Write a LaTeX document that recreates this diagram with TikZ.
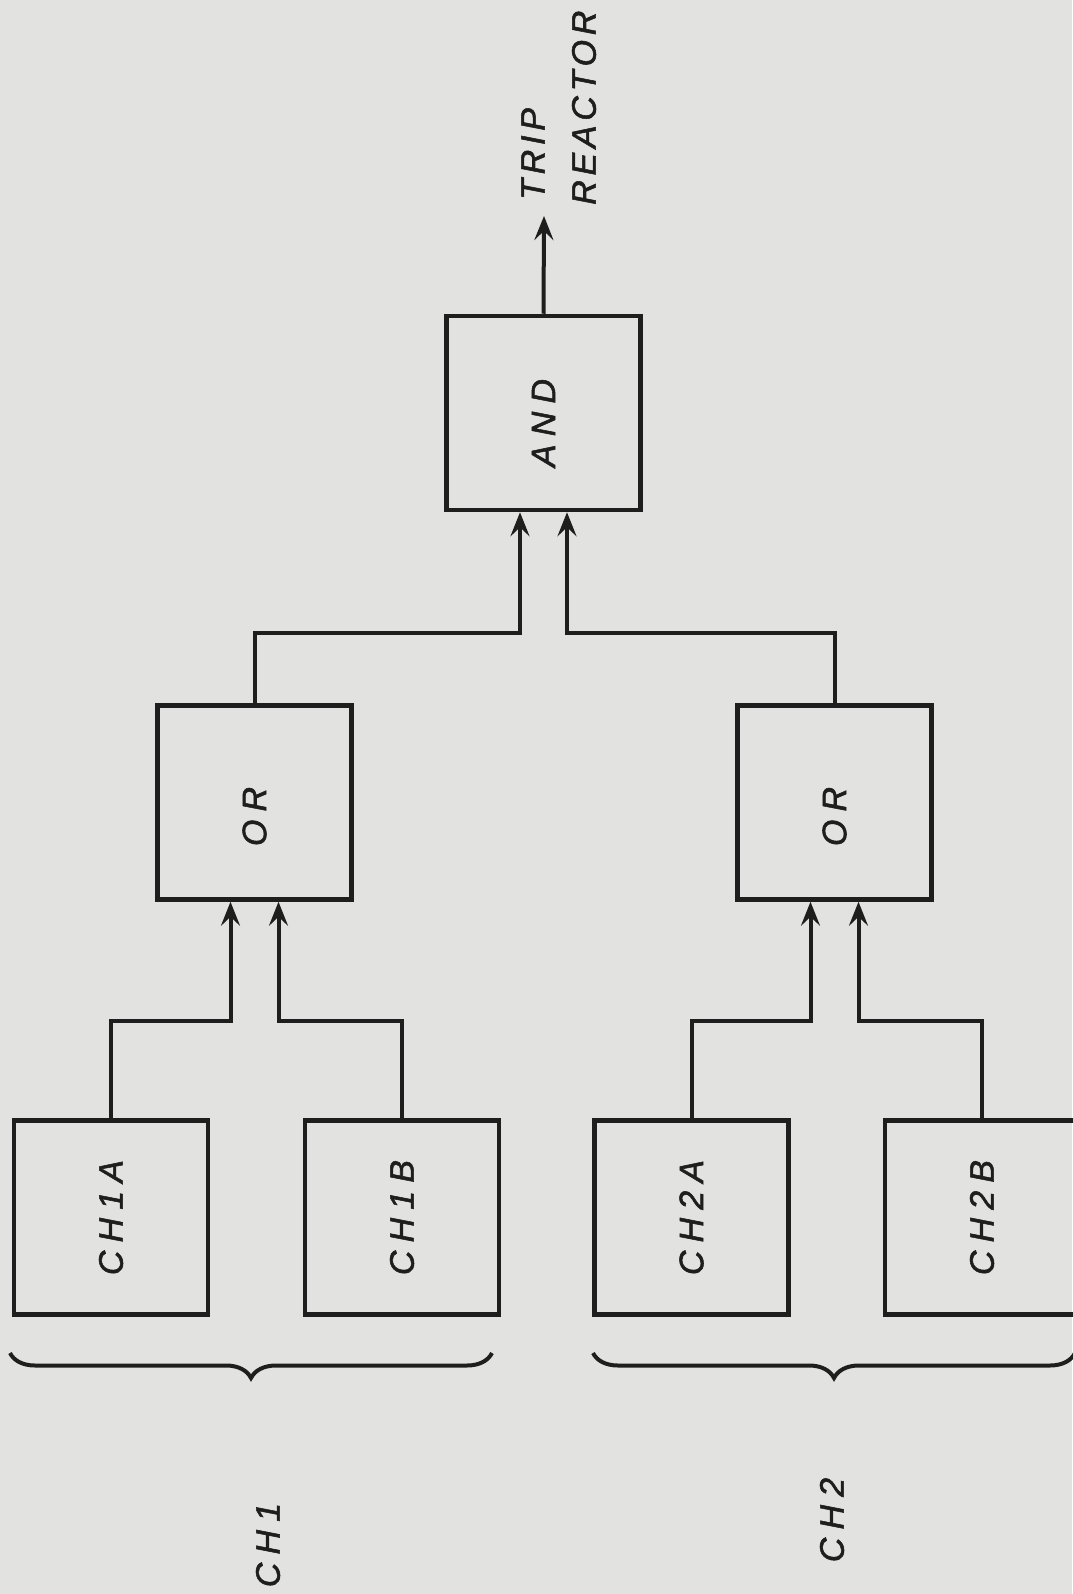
\documentclass[tikz,border=0pt]{standalone}
\usepackage{fontspec}
\newfontfamily\hand[LetterSpace=14,FakeBold=1.6]{Liberation Sans}
\newfontfamily\handwide[LetterSpace=24,FakeBold=1.6]{Liberation Sans}
\usetikzlibrary{arrows.meta,decorations.pathreplacing}
\definecolor{paper}{RGB}{226,226,224}
\definecolor{ink}{RGB}{30,30,30}
\begin{document}
\begin{tikzpicture}[x=1pt,y=-1pt,
  box/.style={draw=ink, line width=4.5pt, minimum width=194pt, minimum height=194pt, inner sep=0pt},
  lbl/.style={text=ink, font=\handwide\itshape\fontsize{34}{34}\selectfont, rotate=90, inner sep=0pt},
  outlbl/.style={lbl, font=\hand\itshape\fontsize{34}{34}\selectfont},
  wire/.style={draw=ink, line width=4pt},
  arr/.style={wire, -{Stealth[length=24pt,width=19pt,inset=9pt]}},
  bracepath/.style={draw=ink, line width=4pt, decorate, decoration={brace, mirror, amplitude=25pt}}]
\fill[paper] (0,0) rectangle (1072,1594);
\useasboundingbox (0,0) rectangle (1072,1594);

\node[box] (and) at (543.5,413) {};
\node[box] (or1) at (254.5,802.5) {};
\node[box] (or2) at (834.5,802.5) {};
\node[box] (ch1a) at (111,1217.5) {};
\node[box] (ch1b) at (402,1217.5) {};
\node[box] (ch2a) at (691.5,1217.5) {};
\node[box] (ch2b) at (982,1217.5) {};

\node[lbl] (andl) at ([yshift=-10pt]and.center) {AND};
\node[lbl] (or1l) at ([yshift=-14pt]or1.center) {OR};
\node[lbl] (or2l) at ([yshift=-14pt]or2.center) {OR};
\node[lbl] (ch1al) at (ch1a.center) {CH1A};
\node[lbl] (ch1bl) at (ch1b.center) {CH1B};
\node[lbl] (ch2al) at (ch2a.center) {CH2A};
\node[lbl] (ch2bl) at (ch2b.center) {CH2B};

\coordinate (lv1) at (0,1021);
\coordinate (lv2) at (0,633);
\coordinate (out) at (544,216);

\draw[arr] (ch1a.north) -- (ch1a.north |- lv1) -| ([xshift=-24pt]or1.south);
\draw[arr] (ch1b.north) -- (ch1b.north |- lv1) -| ([xshift=24pt]or1.south);
\draw[arr] (ch2a.north) -- (ch2a.north |- lv1) -| ([xshift=-24pt]or2.south);
\draw[arr] (ch2b.north) -- (ch2b.north |- lv1) -| ([xshift=24pt]or2.south);
\draw[arr] (or1.north) -- (or1.north |- lv2) -| ([xshift=-23.5pt]and.south);
\draw[arr] (or2.north) -- (or2.north |- lv2) -| ([xshift=23.5pt]and.south);
\draw[arr] (and.north) -- (out);

\node[outlbl, anchor=west] (trip) at (533,200) {TRIP};
\node[outlbl, anchor=west] (reactor) at (584,205) {REACTOR};

\coordinate (b1s) at (10,1353);
\coordinate (b1e) at (492,1353);
\coordinate (b2s) at (593,1353);
\coordinate (b2e) at (1075,1353);
\draw[bracepath] (b1s) -- (b1e);
\draw[bracepath] (b2s) -- (b2e);

\node[lbl] (ch1g) at (268,1545) {CH1};
\node[lbl] (ch2g) at (832,1520) {CH2};
\end{tikzpicture}
\end{document}
